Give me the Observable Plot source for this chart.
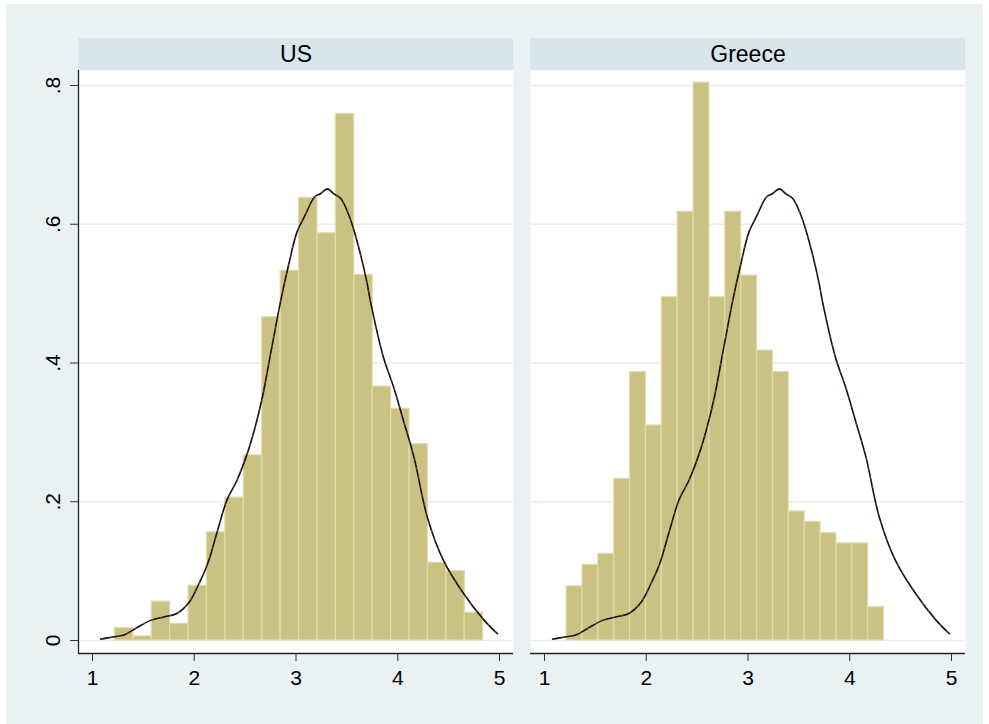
<!DOCTYPE html>
<html>
<head>
<meta charset="utf-8">
<script src="https://cdn.jsdelivr.net/npm/d3@7"></script>
<script src="https://cdn.jsdelivr.net/npm/@observablehq/plot@0.6"></script>
<style>
  html, body { margin: 0; padding: 0; background: #ffffff; }
  #wrap { position: relative; width: 989px; height: 724px; overflow: hidden; }
  #bg { position: absolute; left: 6px; top: 4px; right: 6px; bottom: 0; background: #EAF1F3; }
  #chart { position: absolute; left: 0; top: 0; }
</style>
</head>
<body>
<div id="wrap"><div id="bg"></div><div id="chart"></div></div>
<script>
// ---- Data ----
const countries = ["US", "Greece"];

// Histogram (density scale), 20 bins each
const usBinStart = 1.22, usBinWidth = 0.181;
const usHeights = [0.018, 0.006, 0.056, 0.024, 0.079, 0.156, 0.206, 0.267, 0.466, 0.533,
                   0.638, 0.587, 0.759, 0.527, 0.366, 0.334, 0.283, 0.112, 0.100, 0.040];

const grBinStart = 1.217, grBinWidth = 0.156;
const grHeights = [0.078, 0.109, 0.125, 0.233, 0.387, 0.310, 0.495, 0.618, 0.804, 0.495,
                   0.618, 0.526, 0.418, 0.387, 0.186, 0.171, 0.155, 0.140, 0.140, 0.048];

// Kernel density curve (same curve drawn in both panels)
const densX = [1.08, 1.20, 1.31, 1.42, 1.57, 1.70, 1.83, 1.95, 2.03, 2.13, 2.23, 2.32, 2.42, 2.52,
               2.59, 2.67, 2.75, 2.85, 2.93, 3.01, 3.09, 3.18, 3.24, 3.31, 3.37, 3.44, 3.52, 3.57,
               3.64, 3.70, 3.73, 3.86, 3.96, 4.06, 4.16, 4.29, 4.45, 4.65, 4.85, 4.98];
const densY = [0.002, 0.005, 0.008, 0.017, 0.029, 0.034, 0.039, 0.055, 0.077, 0.110, 0.159, 0.202, 0.231, 0.269,
               0.303, 0.351, 0.413, 0.490, 0.543, 0.589, 0.613, 0.639, 0.644, 0.651, 0.644, 0.637, 0.613, 0.591,
               0.553, 0.514, 0.490, 0.408, 0.365, 0.315, 0.264, 0.178, 0.115, 0.067, 0.029, 0.0097];

// Axis ticks
const xTicks = [1, 2, 3, 4, 5];
const yTicks = [0, 0.2, 0.4, 0.6, 0.8];
const yTickLabels = ["0", ".2", ".4", ".6", ".8"];

// ---- Build tables ----
const bars = [];
usHeights.forEach((h, i) => bars.push({country: "US", x1: usBinStart + i * usBinWidth, x2: usBinStart + (i + 1) * usBinWidth, h}));
grHeights.forEach((h, i) => bars.push({country: "Greece", x1: grBinStart + i * grBinWidth, x2: grBinStart + (i + 1) * grBinWidth, h}));
const density = densX.map((x, i) => ({x, y: densY[i]}));
const yLabels = yTicks.map((v, i) => ({country: "US", v, label: yTickLabels[i]}));

// ---- Layout ----
const W = 989, H = 724;
const mL = 78, mR = 24, mT = 70, mB = 71;
const xDom = [0.8624, 5.1376];
const yDom = [-0.01874, 0.8216];
const pxPerUnitY = (H - mB - mT) / (yDom[1] - yDom[0]);
const headerTop = yDom[1] + 32 / pxPerUnitY;

const font = "'Liberation Sans', Arial, Helvetica, sans-serif";

const chart = Plot.plot({
  width: W, height: H,
  marginLeft: mL, marginRight: mR, marginTop: mT, marginBottom: mB,
  style: {background: "transparent", fontFamily: font, color: "#000"},
  fx: {domain: countries, paddingInner: 0.0376, paddingOuter: 0, round: false, axis: null, label: null},
  x: {domain: xDom, label: null},
  y: {domain: yDom, label: null},
  marks: [
    Plot.frame({fill: "#ffffff", stroke: "none"}),
    // header strip
    Plot.rect([0], {x1: xDom[0], x2: xDom[1], y1: yDom[1], y2: headerTop, fill: "#D9E5EB"}),
    Plot.text(countries, {fx: d => d, text: d => d, frameAnchor: "top", dy: -16, lineAnchor: "middle",
                          fontSize: 23, fill: "#000"}),
    Plot.gridY(yTicks, {stroke: "#E6EEF2", strokeOpacity: 1, strokeWidth: 1.5}),
    Plot.rect(bars, {fx: "country", x1: "x1", x2: "x2", y1: 0, y2: "h",
                     fill: "#CAC282", stroke: "#E0DCAE", strokeWidth: 1.2}),
    Plot.line(density, {x: "x", y: "y", curve: "catmull-rom", stroke: "#111", strokeWidth: 1.6}),
    Plot.line(density, {x: "x", y: "y", curve: "catmull-rom", stroke: "#B23A3A", strokeWidth: 1.2,
                        strokeDasharray: "1.2 8", strokeOpacity: 0.8}),
    // axis lines
    Plot.ruleY([yDom[0]], {stroke: "#222", strokeWidth: 1.3}),
    Plot.ruleX([{country: "US", x: xDom[0]}], {fx: "country", x: "x", stroke: "#222", strokeWidth: 1.3}),
    // x axis
    Plot.axisX({ticks: xTicks, tickSize: 8, tickPadding: 9, fontSize: 21, stroke: "#333",
                tickFormat: d => String(d), fill: "#000", label: null}),
    // y axis ticks (left panel only) + rotated labels
    Plot.axisY({ticks: yTicks, tickSize: 8, tickFormat: () => "", stroke: "#333", label: null}),
    Plot.text(yLabels, {fx: "country", y: "v", text: "label", frameAnchor: "left", dx: -25,
                        rotate: -90, textAnchor: "middle", lineAnchor: "middle", fontSize: 21, fill: "#000"})
  ]
});
document.getElementById("chart").appendChild(chart);
</script>
</body>
</html>
